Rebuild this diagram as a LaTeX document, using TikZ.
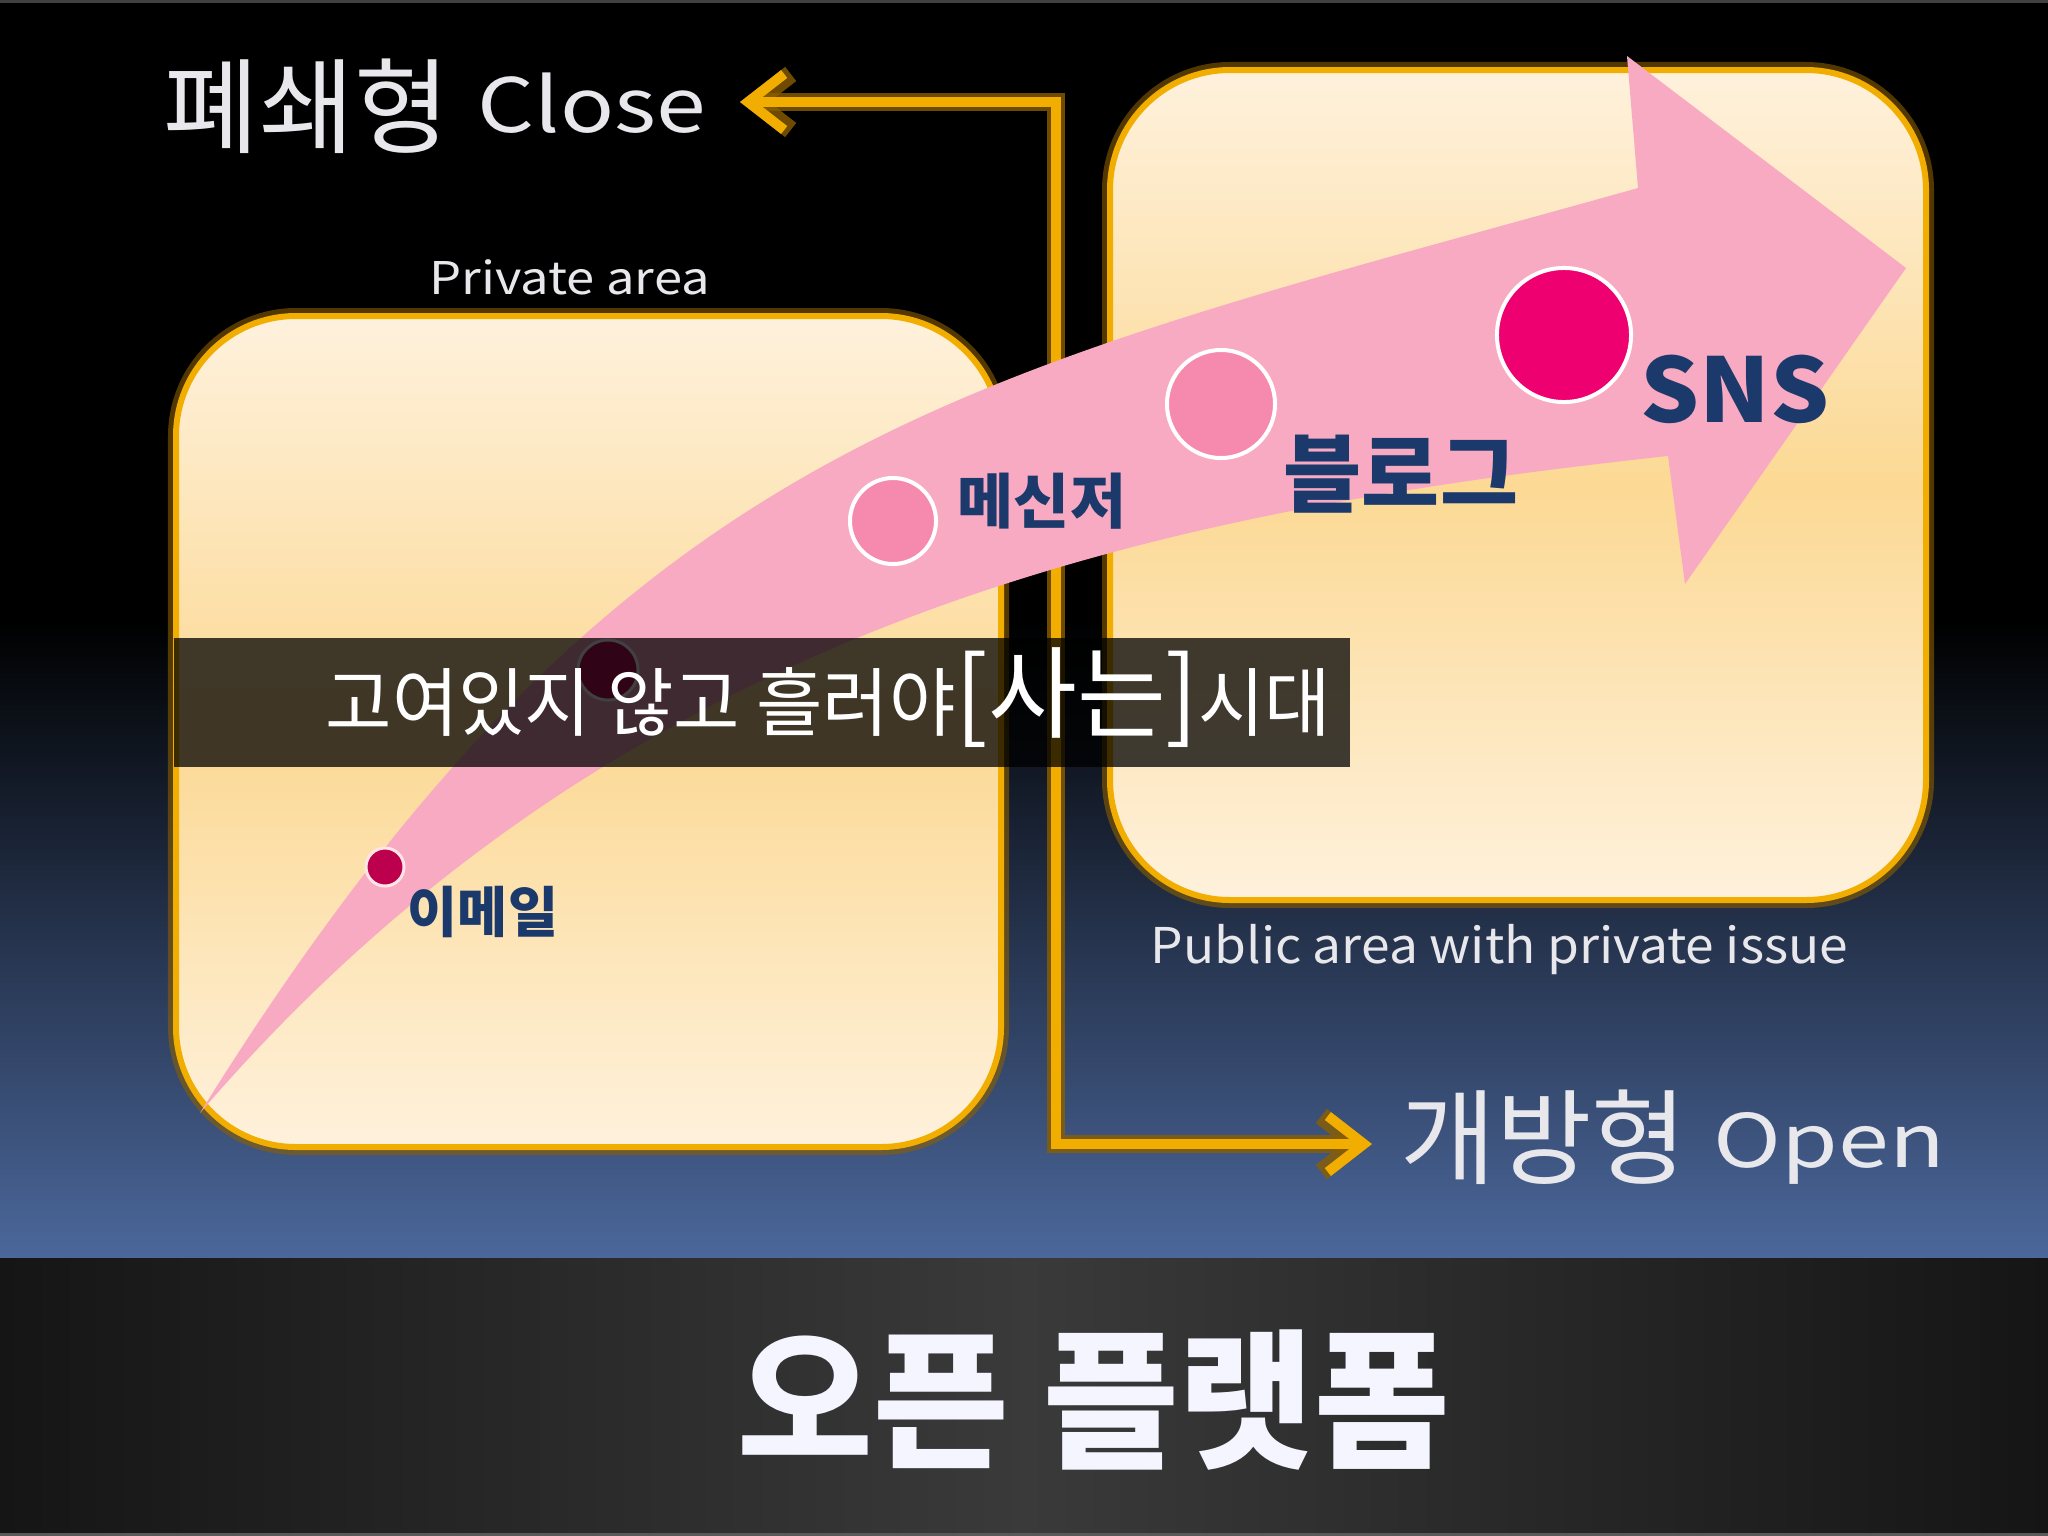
\documentclass[tikz,border=0pt]{standalone}
\usepackage{fontspec}
\usepackage{graphicx}
\usetikzlibrary{arrows.meta}
\newfontfamily\kr{Noto Sans CJK KR}
\newcommand{\fitw}[2]{\resizebox{#1}{\height}{#2}}
\newcommand{\fsz}[1]{\fontsize{#1}{#1}\selectfont}
\definecolor{navy}{HTML}{1B3A6B}
\definecolor{pinkband}{HTML}{F9AAC3}
\definecolor{gold}{HTML}{F2AE00}
\definecolor{golddark}{HTML}{8A5E00}
\definecolor{creamtop}{HTML}{FEF1DC}
\definecolor{creammid}{HTML}{FCD994}
\definecolor{bluebot}{HTML}{4B679B}
\definecolor{dotpink}{HTML}{F68AAE}
\definecolor{dotsns}{HTML}{EE0070}
\definecolor{dotmail}{HTML}{BC004E}
\definecolor{bandedge}{HTML}{151515}
\definecolor{bandmid}{HTML}{3A3A3A}
\definecolor{lighttext}{HTML}{E8E8EC}
\tikzset{
  boxglow/.style={draw=golddark, line width=0.16cm, rounded corners=1.2cm, opacity=0.6},
  boxmain/.style={draw=gold, line width=0.06cm, rounded corners=1.2cm,
    top color=creamtop, bottom color=creamtop, middle color=creammid},
  connglow/.style={draw=golddark, line width=0.18cm, opacity=0.8,
    {Straight Barb[length=0.36cm, width=0.56cm]}-{Straight Barb[length=0.36cm, width=0.56cm]}},
  connmain/.style={draw=gold, line width=0.10cm,
    {Straight Barb[length=0.36cm, width=0.56cm]}-{Straight Barb[length=0.36cm, width=0.56cm]}},
  dot/.style={circle, inner sep=0, draw=white, line width=0.04cm},
  lab/.style={inner sep=0, text=navy},
  bigtxt/.style={inner sep=0, anchor=base west, text=lighttext},
}
\begin{document}
\begin{tikzpicture}[x=0.01cm, y=-0.01cm]
\useasboundingbox (0,0) rectangle (2048,1536);
% background
\fill[black] (0,0) rectangle (2048,625);
\fill[top color=black, bottom color=bluebot] (0,620) rectangle (2048,1258);
\fill[left color=bandedge, right color=bandedge, middle color=bandmid] (0,1258) rectangle (2048,1536);
\fill[black!75] (0,0) rectangle (2048,3);
\fill[black!65] (0,1533) rectangle (2048,1536);
% boxes
\path[boxglow] (176,316) rectangle (1001,1147);
\path[boxmain] (176,316) rectangle (1001,1147);
\path[boxglow] (1110,70) rectangle (1926,900);
\path[boxmain] (1110,70) rectangle (1926,900);
% big labels
\node[bigtxt, font=\kr\fsz{29.5}] (closeh) at (163,145) {폐쇄형};
\node[bigtxt, font=\kr\fsz{21.3}] (close) at (477,132) {\fitw{2.28cm}{Close}};
\node[bigtxt, font=\kr\fsz{29.5}] (openh) at (1400,1176) {개방형};
\node[bigtxt, font=\kr\fsz{21}] (open) at (1713,1167) {\fitw{2.31cm}{Open}};
\node[bigtxt, font=\kr\fsz{12.8}] (priv) at (429,294) {\fitw{2.80cm}{Private area}};
\node[bigtxt, font=\kr\fsz{14}] (pub) at (1150,963) {\fitw{6.97cm}{Public area with private issue}};
% connector
\coordinate (tipc) at (740,102);
\coordinate (ctop) at (1056,102);
\coordinate (cbot) at (1056,1144);
\coordinate (tipo) at (1372,1144);
\draw[connglow] (tipc) -- (ctop) -- (cbot) -- (tipo);
\draw[connmain] (tipc) -- (ctop) -- (cbot) -- (tipo);
% pink arrow
\fill[pinkband] (200,1113) .. controls (626,428) and (964,377) .. (1638,188)
  -- (1627,56) -- (1906,268) -- (1685,584) -- (1668,456)
  .. controls (1171,510) and (627,615) .. (200,1113) -- cycle;
% dots
\node[dot, fill=dotmail, minimum size=0.38cm, draw=pink!40, line width=0.03cm] (demail) at (385,867) {};
\node[dot, fill=dotmail!90!pink, minimum size=0.60cm, line width=0.03cm] (dhidden) at (608,670) {};
\node[dot, fill=dotpink, minimum size=0.86cm] (dmsg) at (893,521) {};
\node[dot, fill=dotpink, minimum size=1.08cm] (dblog) at (1221,404) {};
\node[dot, fill=dotsns, minimum size=1.34cm] (dsns) at (1564,335) {};
% labels
\node[lab, font=\kr\bfseries\fsz{15.6}] (lemail) at (483,912) {\fitw{1.50cm}{이메일}};
\node[lab, font=\kr\bfseries\fsz{17}] (lmsg) at (1042,501) {\fitw{1.68cm}{메신저}};
\node[lab, font=\kr\bfseries\fsz{24.2}] (lblog) at (1401,474) {\fitw{2.34cm}{블로그}};
\node[lab, font=\kr\bfseries\fsz{25.3}] (lsns) at (1735,389) {\fitw{1.89cm}{SNS}};
% caption overlay
\fill[black, opacity=0.75] (174,638) rectangle (1350,767);
\node[inner sep=0, anchor=base west, text=white, font=\kr\fsz{21.3}] (sub) at (325,730)
  {\fitw{10.05cm}{고여있지 않고 흘러야{\fsz{28.5}[사는]}시대}};
% title
\node[inner sep=0, text=white!96!blue, font=\kr\bfseries\fsz{42.7}] (title) at (1094,1400) {\fitw{7.12cm}{오픈 플랫폼}};
\end{tikzpicture}
\end{document}
